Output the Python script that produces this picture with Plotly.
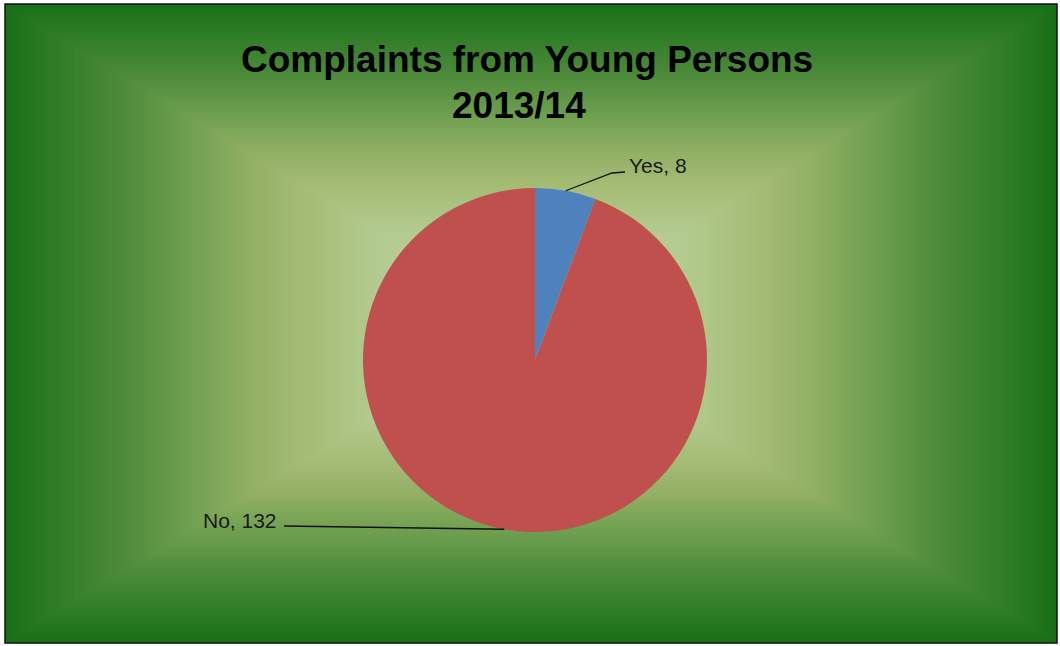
import math
import plotly.graph_objects as go

# Chart data
labels = ["Yes", "No"]
values = [8, 132]
slice_colors = ["#4F81BD", "#C0504D"]
title_lines = ["Complaints from Young Persons", "2013/14"]

W, H = 1060, 646


def px(x):
    return x / W


def py(y):
    return 1 - y / H


# Frame (pixels) and pie geometry (pixels)
left, top, right, bottom = 5, 4, 1057, 643
cx_pie, cy_pie, r_pie = 535, 360, 172

# Rectangular "from centre" gradient: colour stops along normalised distance
grad_stops = [
    (0.00, (0xC4, 0xDC, 0xAB)),
    (0.30, (0xB2, 0xCA, 0x8E)),
    (0.45, (0xA3, 0xBA, 0x72)),
    (0.55, (0x8F, 0xAE, 0x62)),
    (0.65, (0x6F, 0xA0, 0x50)),
    (0.78, (0x4D, 0x8B, 0x3A)),
    (0.90, (0x30, 0x7D, 0x28)),
    (1.00, (0x18, 0x70, 0x16)),
]


def grad_color(t):
    for (t0, c0), (t1, c1) in zip(grad_stops[:-1], grad_stops[1:]):
        if t <= t1:
            f = (t - t0) / (t1 - t0) if t1 > t0 else 0
            c = [round(a + (b - a) * f) for a, b in zip(c0, c1)]
            return "rgb({},{},{})".format(*c)
    return "rgb({},{},{})".format(*grad_stops[-1][1])


shapes = []
gx, gy = (left + right) / 2, (top + bottom) / 2
hw, hh = (right - left) / 2, (bottom - top) / 2
n_steps = 160
for i in range(n_steps):
    t = 1 - i / n_steps
    # snap each band to whole pixels so the edges stay crisp
    x0, x1 = round(gx - hw * t), round(gx + hw * t)
    y0, y1 = round(gy - hh * t), round(gy + hh * t)
    shapes.append(dict(
        type="rect", xref="paper", yref="paper", layer="below",
        x0=px(x0), x1=px(x1), y0=py(y1), y1=py(y0),
        line=dict(width=0), fillcolor=grad_color(t),
    ))

# Outer border
shapes.append(dict(
    type="rect", xref="paper", yref="paper", layer="above",
    x0=px(left), x1=px(right), y0=py(bottom), y1=py(top),
    line=dict(color="#111111", width=1.5), fillcolor="rgba(0,0,0,0)",
))

# Leader lines from slice mid-angles to the labels
total = sum(values)
cum = 0
mid_points = []
for v in values:
    mid = (cum + v / 2) / total * 2 * math.pi
    mid_points.append((cx_pie + r_pie * math.sin(mid), cy_pie - r_pie * math.cos(mid)))
    cum += v

label_paths = [
    [(612, 173), (625, 172)],
    [(284, 526)],
]
for (sx, sy), path in zip(mid_points, label_paths):
    pts = [(sx, sy)] + path
    d = "M {} {}".format(px(pts[0][0]), py(pts[0][1]))
    for x, y in pts[1:]:
        d += " L {} {}".format(px(x), py(y))
    shapes.append(dict(
        type="path", xref="paper", yref="paper", layer="above",
        path=d, line=dict(color="#111111", width=1.3),
    ))

label_font = dict(family="Liberation Sans, Arial", size=21, color="#1A1A1A")
title_font = dict(family="Liberation Sans, Arial", size=37, color="#000000")

annotations = [
    dict(
        text="<b>{}</b>".format(title_lines[0]), x=px(527), y=py(60),
        xanchor="center", yanchor="middle", showarrow=False,
        xref="paper", yref="paper", font=title_font,
    ),
    dict(
        text="<b>{}</b>".format(title_lines[1]), x=px(519), y=py(105),
        xanchor="center", yanchor="middle", showarrow=False,
        xref="paper", yref="paper", font=title_font,
    ),
    dict(
        text="{}, {}".format(labels[0], values[0]), x=px(627), y=py(165),
        xanchor="left", yanchor="middle", showarrow=False,
        xref="paper", yref="paper", font=label_font,
    ),
    dict(
        text="{}, {}".format(labels[1], values[1]), x=px(279), y=py(520),
        xanchor="right", yanchor="middle", showarrow=False,
        xref="paper", yref="paper", font=label_font,
    ),
]

fig = go.Figure(go.Pie(
    labels=labels,
    values=values,
    sort=False,
    direction="clockwise",
    rotation=0,
    marker=dict(colors=slice_colors, line=dict(width=0)),
    textinfo="none",
    hoverinfo="label+value",
    showlegend=False,
    domain=dict(
        x=[px(cx_pie - r_pie), px(cx_pie + r_pie)],
        y=[py(cy_pie + r_pie), py(cy_pie - r_pie)],
    ),
))

fig.update_layout(
    width=W,
    height=H,
    margin=dict(l=0, r=0, t=0, b=0),
    paper_bgcolor="white",
    plot_bgcolor="white",
    shapes=shapes,
    annotations=annotations,
)

fig.write_html("out.html")
